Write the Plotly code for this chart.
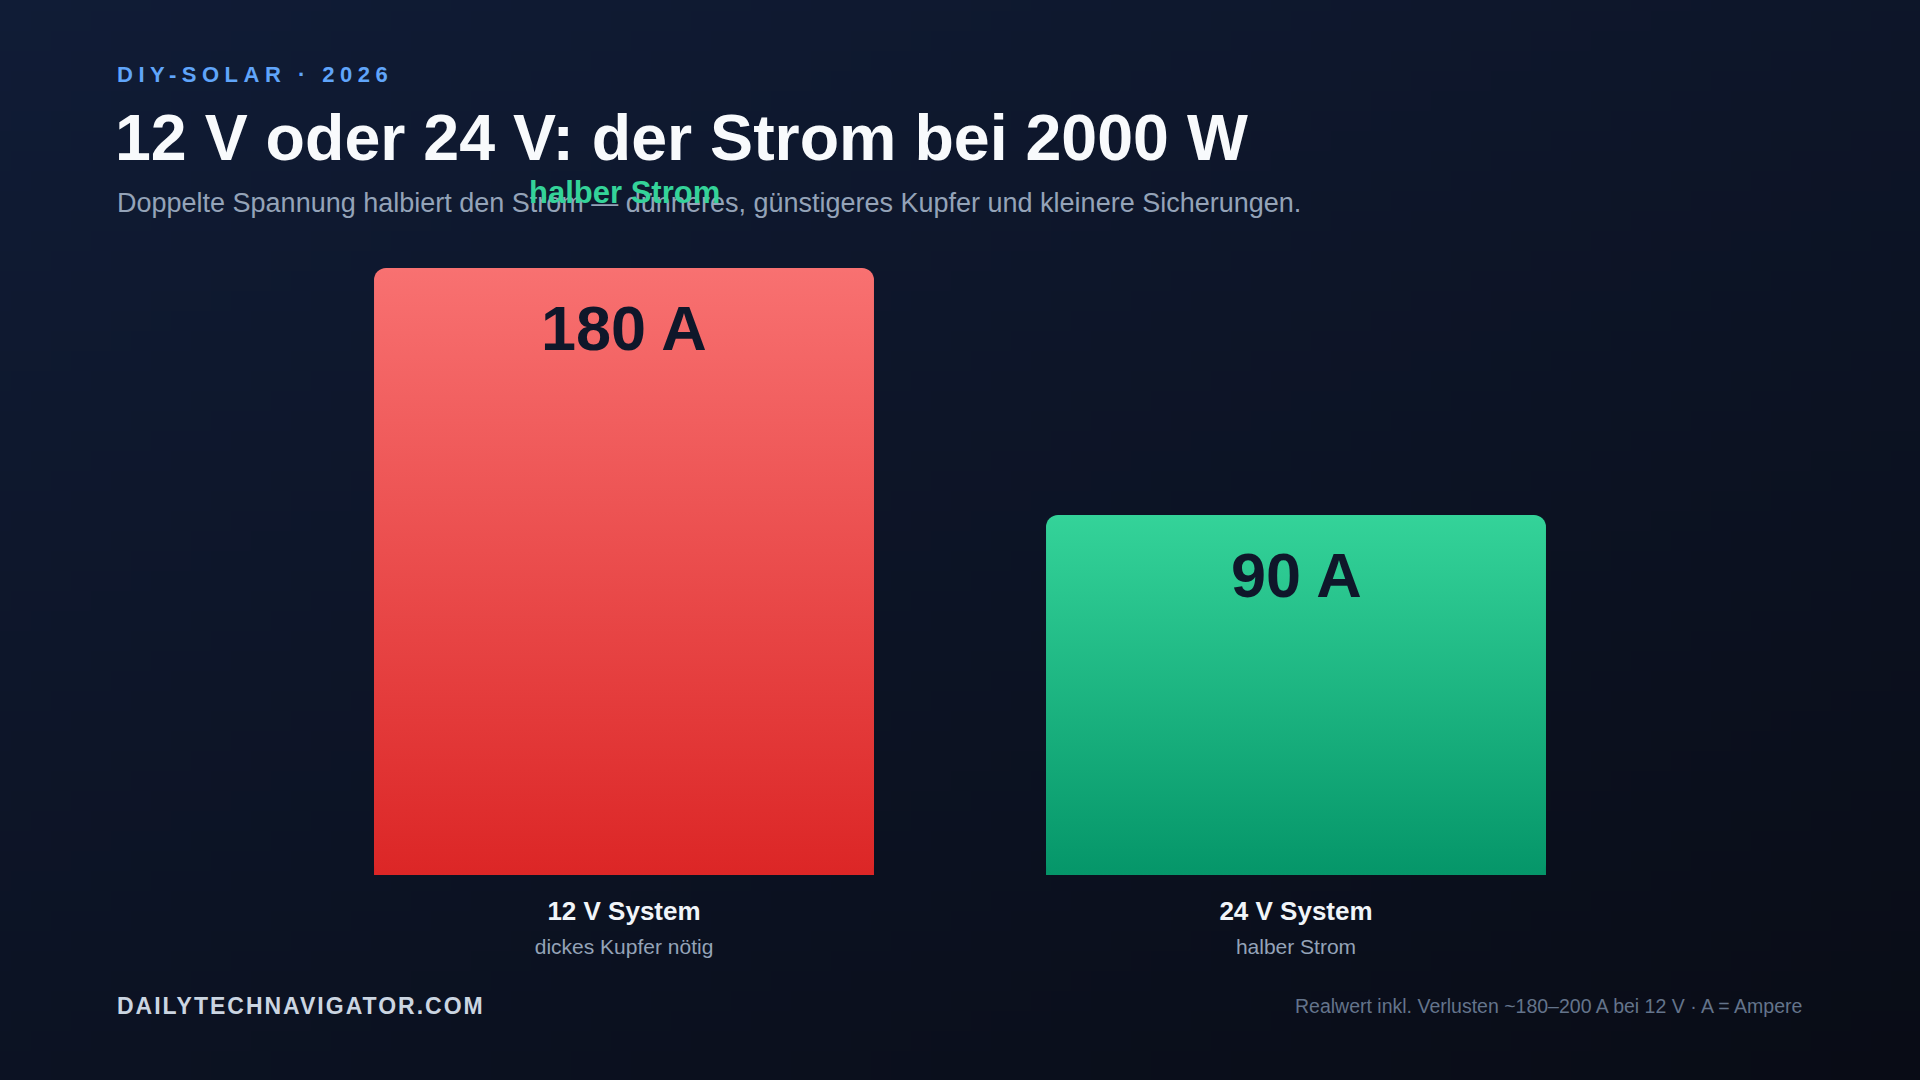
import base64
import json
import struct
import zlib

import plotly.graph_objects as go

# ---------------- data ----------------
CATEGORIES = ["12 V System", "24 V System"]
SUBLABELS = ["dickes Kupfer nötig", "halber Strom"]
CURRENT_A = [180, 90]
UNIT = "A"

KICKER = "DIY-SOLAR · 2026"
TITLE = "12 V oder 24 V: der Strom bei 2000 W"
SUBTITLE = ("Doppelte Spannung halbiert den Strom — dünneres, günstigeres "
            "Kupfer und kleinere Sicherungen.")
CALLOUT = "halber Strom"
SOURCE = "DAILYTECHNAVIGATOR.COM"
NOTE = "Realwert inkl. Verlusten ~180–200 A bei 12 V · A = Ampere"

# ---------------- style ----------------
FONT = "Liberation Sans, Arial, Helvetica, sans-serif"
W, H = 1920, 1080
TOP_RGB = [(248, 113, 113), (52, 211, 153)]
BOTTOM_RGB = [(220, 38, 38), (5, 150, 105)]
Y_FLOOR = -41.2
Y_TOP = 200
BAR_WIDTH = 0.744
BG_TL = (16, 28, 54)
BG_BR = (9, 12, 22)
LETTER_SPACING = {KICKER: "5.5px", SOURCE: "2px"}


def px_x(p):
    return p / W


def px_y(p):
    return 1 - p / H


def gradient_png(w, h, c0, c1):
    raw = bytearray()
    for j in range(h):
        raw.append(0)
        for i in range(w):
            t = (i / (w - 1)) * 0.4 + (j / (h - 1)) * 0.6
            for k in range(3):
                raw.append(int(round(c0[k] + (c1[k] - c0[k]) * t)))

    def chunk(tag, data):
        c = struct.pack(">I", len(data)) + tag + data
        return c + struct.pack(">I", zlib.crc32(tag + data) & 0xFFFFFFFF)

    png = (b"\x89PNG\r\n\x1a\n"
           + chunk(b"IHDR", struct.pack(">IIBBBBB", w, h, 8, 2, 0, 0, 0))
           + chunk(b"IDAT", zlib.compress(bytes(raw), 9))
           + chunk(b"IEND", b""))
    return "data:image/png;base64," + base64.b64encode(png).decode()


def rgb(c, a=1):
    return f"rgba({c[0]},{c[1]},{c[2]},{a})"


fig = go.Figure()

x_pos = list(range(len(CATEGORIES)))

# bars (rounded top corners), light top colour
fig.add_trace(go.Bar(
    x=x_pos,
    y=[v - Y_FLOOR for v in CURRENT_A],
    base=Y_FLOOR,
    width=BAR_WIDTH,
    marker=dict(color=[rgb(c) for c in TOP_RGB], cornerradius=12,
                line=dict(width=0)),
    customdata=CURRENT_A,
    hovertemplate="%{customdata} A<extra></extra>",
    showlegend=False,
))

# vertical gradient overlay on each bar
for i, v in enumerate(CURRENT_A):
    x0, x1 = i - BAR_WIDTH / 2, i + BAR_WIDTH / 2
    c = BOTTOM_RGB[i]
    fig.add_trace(go.Scatter(
        x=[x0, x1, x1, x0, x0],
        y=[Y_FLOOR, Y_FLOOR, v, v, Y_FLOOR],
        mode="lines",
        line=dict(width=0),
        fill="toself",
        fillgradient=dict(type="vertical",
                          colorscale=[[0, rgb(c, 1)], [1, rgb(c, 0)]]),
        hoverinfo="skip",
        showlegend=False,
    ))

# value labels
for i, v in enumerate(CURRENT_A):
    fig.add_annotation(
        x=i, y=v, xref="x", yref="y",
        text=f"<b>{v} {UNIT}</b>", showarrow=False,
        yanchor="middle", yshift=-60,
        font=dict(family=FONT, size=63, color="#0f172a"),
    )

ticktext = [
    f"<b>{c}</b><br><span style='font-size:21px;color:#94a3b8;font-weight:400'>{s}</span>"
    for c, s in zip(CATEGORIES, SUBLABELS)
]

# header texts
fig.add_annotation(x=px_x(115), y=px_y(75), xref="paper", yref="paper",
                   text=f"<b>{KICKER}</b>", showarrow=False,
                   xanchor="left", yanchor="middle", align="left",
                   font=dict(family=FONT, size=22, color="#60a5fa"))
fig.add_annotation(x=px_x(113), y=px_y(138), xref="paper", yref="paper",
                   text=f"<b>{TITLE}</b>", showarrow=False,
                   xanchor="left", yanchor="middle",
                   font=dict(family=FONT, size=64.5, color="#f8fafc"))
fig.add_annotation(x=px_x(115), y=px_y(203), xref="paper", yref="paper",
                   text=SUBTITLE, showarrow=False,
                   xanchor="left", yanchor="middle",
                   font=dict(family=FONT, size=27, color="#94a3b8"))
fig.add_annotation(x=0, y=px_y(192), xref="x", yref="paper",
                   text=f"<b>{CALLOUT}</b>", showarrow=False,
                   xanchor="center", yanchor="middle",
                   font=dict(family=FONT, size=31, color="#34d399"))

# footer
fig.add_annotation(x=px_x(115), y=px_y(1006), xref="paper", yref="paper",
                   text=f"<b>{SOURCE}</b>", showarrow=False,
                   xanchor="left", yanchor="middle", align="left",
                   font=dict(family=FONT, size=23, color="#cbd5e1"))
fig.add_annotation(x=px_x(1804), y=px_y(1006), xref="paper", yref="paper",
                   text=NOTE, showarrow=False,
                   xanchor="right", yanchor="middle",
                   font=dict(family=FONT, size=19.5, color="#64748b"))

fig.update_layout(
    width=W, height=H,
    margin=dict(l=0, r=0, t=0, b=0),
    paper_bgcolor="#0b1020",
    plot_bgcolor="rgba(0,0,0,0)",
    showlegend=False,
    font=dict(family=FONT),
    images=[dict(source=gradient_png(96, 54, BG_TL, BG_BR),
                 xref="paper", yref="paper", x=0, y=1, sizex=1, sizey=1,
                 xanchor="left", yanchor="top", sizing="stretch",
                 layer="below")],
    xaxis=dict(domain=[0.15, 0.85], range=[-0.5, 1.5],
               tickvals=x_pos, ticktext=ticktext,
               showgrid=False, zeroline=False, showline=False, ticks="",
               ticklabelstandoff=18,
               tickfont=dict(family=FONT, size=26, color="#f1f5f9"),
               fixedrange=True),
    yaxis=dict(domain=[px_y(875), px_y(875 - (Y_TOP - Y_FLOOR) * 2.7445)],
               range=[Y_FLOOR, Y_TOP], visible=False, fixedrange=True),
)

post_js = (
    "var gd=document.getElementById('{plot_id}');"
    "var sp=" + json.dumps(LETTER_SPACING) + ";"
    "gd.querySelectorAll('text.annotation-text').forEach(function(t){"
    "var s=sp[t.textContent];"
    "if(s){t.setAttribute('letter-spacing',s);t.style.letterSpacing=s;}});"
)

fig.write_html("out.html", post_script=post_js)
